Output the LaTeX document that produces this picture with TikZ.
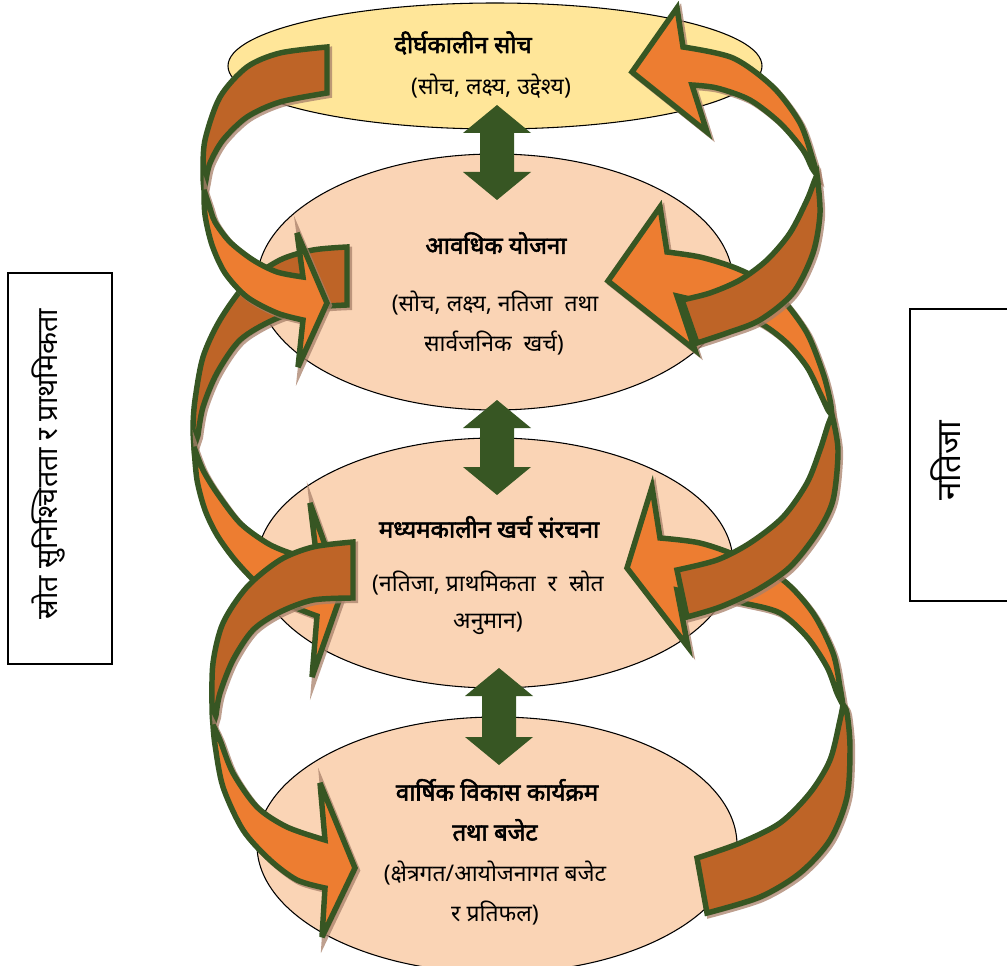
\documentclass[tikz,border=0pt]{standalone}
\usepackage{fontspec}
\newfontfamily\dev[Script=Devanagari]{Noto Sans}
\newfontfamily\devb[Script=Devanagari,FakeBold=2.4]{Noto Sans}
\usetikzlibrary{calc,shapes.geometric}
\definecolor{ygold}{HTML}{FFE699}
\definecolor{peach}{HTML}{FAD4B5}
\definecolor{dgreen}{HTML}{375623}
\definecolor{lorange}{HTML}{ED7D31}
\definecolor{dorange}{HTML}{BE6427}
\definecolor{shadowc}{HTML}{A8806A}
\newcommand\blockarrow[2]{%
 \fill[dgreen] (#1) -- ([shift={(34,28)}]#1) -- ([shift={(17,28)}]#1) -- ([shift={(17,-28)}]#2) -- ([shift={(34,-28)}]#2) -- (#2) -- ([shift={(-34,-28)}]#2) -- ([shift={(-17,-28)}]#2) -- ([shift={(-17,28)}]#1) -- ([shift={(-34,28)}]#1) -- cycle;}
\begin{document}
\begin{tikzpicture}[x=0.75pt,y=-0.75pt,
  ell/.style={ellipse, draw=black, line width=0.8pt, inner sep=0pt, outer sep=0pt},
  ttl/.style={font=\devb\fontsize{18}{21}\selectfont, inner sep=0pt},
  txt/.style={font=\dev\fontsize{17.2}{20}\selectfont, inner sep=0pt},
  sidetxt/.style={font=\dev\fontsize{21.5}{24}\selectfont, inner sep=0pt, rotate=90},
  sidebox/.style={draw=black, line width=0.8pt, fill=white, inner sep=0pt},
  curvebase/.style={draw=dgreen, line width=4.1pt, line join=miter, miter limit=5,
     preaction={fill=shadowc, draw=shadowc, line width=4.1pt, opacity=0.75,
       transform canvas={xshift=1.8pt, yshift=-1.8pt}}},
  darkpart/.style={curvebase, fill=dorange},
  lightpart/.style={curvebase, fill=lorange}]
\useasboundingbox (0,0) rectangle (1007,966);

% side boxes
\node[sidebox, minimum width=78pt, minimum height=293.25pt] (b1) at (60,468.5) {};
\node[sidebox, minimum width=78pt, minimum height=219pt] (b2) at (962,455) {};
\node[sidetxt] (s1) at (48,464) {स्रोत सुनिश्चितता र प्राथमिकता};
\node[sidetxt, font=\dev\fontsize{25}{28}\selectfont] (s2) at (946,461) {नतिजा};

% ellipses
\node[ell, fill=ygold, minimum width=400.5pt, minimum height=94.5pt] (e1) at (495,66) {};
\node[ell, fill=peach, minimum width=357pt, minimum height=192pt] (e2) at (495,282) {};
\node[ell, fill=peach, minimum width=357pt, minimum height=187.5pt] (e3) at (495,563) {};
\node[ell, fill=peach, minimum width=360pt, minimum height=192pt] (e4) at (497,845) {};

% double arrows
\coordinate (a1t) at ($(e1.south)+(2,-24)$);
\coordinate (a1b) at ($(e2.north)+(2,46)$);
\coordinate (a2t) at ($(e2.south)+(2,-10)$);
\coordinate (a2b) at ($(e3.north)+(2,57)$);
\coordinate (a3t) at ($(e3.south)+(4,-20)$);
\coordinate (a3b) at ($(e4.north)+(2,48)$);
\blockarrow{a1t}{a1b}
\blockarrow{a2t}{a2b}
\blockarrow{a3t}{a3b}

% texts
\node[ttl] (t1a) at (463,43) {दीर्घकालीन सोच};
\node[txt] (t1b) at (491,86) {(सोच, लक्ष्य, उद्देश्य)};
\node[ttl] (t2a) at (496,243) {आवधिक योजना};
\node[txt] (t2b) at (495,303) {(सोच, लक्ष्य, नतिजा\ \ तथा};
\node[txt] (t2c) at (494,343) {सार्वजनिक\ \ खर्च)};
\node[ttl] (t3a) at (489,527) {मध्यमकालीन खर्च संरचना};
\node[txt] (t3b) at (488,583) {(नतिजा, प्राथमिकता\ \ र\ \ स्रोत};
\node[txt] (t3c) at (488,623) {अनुमान)};
\node[ttl] (t4a) at (497,790) {वार्षिक विकास कार्यक्रम};
\node[ttl] (t4b) at (495,830) {तथा बजेट};
\node[txt] (t4c) at (495,873) {(क्षेत्रगत/आयोजनागत\ बजेट};
\node[txt] (t4d) at (495,913) {र प्रतिफल)};

% right curved arrows (R3, R2, R1)
\filldraw[lightpart] plot[smooth] coordinates {(843,705) (840,687) (833,653) (813,613) (783,580) (740,557) (700,543) (660,538)} -- (652,487) -- (627,568) -- (688,647) -- plot[smooth] coordinates {(677,590) (710,597) (743,603) (780,613) (807,637) (827,667) (837,693) (843,705)} -- cycle;
\filldraw[darkpart] plot[smooth] coordinates {(843,705) (847,713) (850,747) (847,797) (830,840) (800,873) (760,897) (707,913)} -- plot[smooth] coordinates {(697,858) (740,843) (780,823) (810,793) (830,760) (840,720) (843,705)} -- cycle;

\filldraw[lightpart] plot[smooth] coordinates {(832,415) (830,400) (823,373) (807,333) (783,300) (760,280) (733,267) (700,257) (667,252)} -- (660,207) -- (608,281) -- (695,350) -- plot[smooth] coordinates {(677,296) (720,307) (760,323) (787,343) (807,367) (820,393) (828,410) (832,415)} -- cycle;
\filldraw[darkpart] plot[smooth] coordinates {(832,415) (838,450) (833,500) (817,533) (790,567) (757,590) (720,607) (687,617)} -- plot[smooth] coordinates {(677,570) (717,560) (750,543) (783,517) (807,483) (820,450) (828,425) (832,415)} -- cycle;

\filldraw[lightpart] plot[smooth] coordinates {(817,175) (813,160) (800,123) (773,87) (733,58) (683,47)} -- (677,8) -- (632,72) -- (707,132) -- plot[smooth] coordinates {(692,85) (717,88) (750,100) (780,123) (803,150) (812,168) (817,175)} -- cycle;
\filldraw[darkpart] plot[smooth] coordinates {(817,175) (820,213) (813,253) (793,293) (760,320) (727,333) (697,343)} -- plot[smooth] coordinates {(682,300) (710,293) (740,280) (767,260) (790,233) (807,200) (814,182) (817,175)} -- cycle;

% left curved arrows (L2, L1, L3)
\filldraw[darkpart] plot[smooth] coordinates {(347,247) (313,250) (280,260) (247,283) (220,320) (203,357) (195,400) (193,427) (194,447)} -- plot[smooth] coordinates {(198,435) (203,407) (217,373) (240,340) (273,320) (310,308) (347,305)} -- cycle;
\filldraw[lightpart] plot[smooth] coordinates {(194,447) (197,480) (205,510) (217,535) (235,560) (257,583) (285,603) (317,616)} -- (312,677) -- (342,592) -- (310,503) -- plot[smooth] coordinates {(317,560) (290,553) (267,543) (240,523) (217,493) (203,470) (194,447)} -- cycle;

\filldraw[darkpart] plot[smooth] coordinates {(327,47) (280,53) (247,67) (220,97) (205,140) (203,173) (204,190)} -- plot[smooth] coordinates {(206,180) (210,163) (223,140) (247,117) (280,102) (327,93)} -- cycle;
\filldraw[lightpart] plot[smooth] coordinates {(204,190) (205,215) (212,245) (225,273) (247,297) (277,313) (303,320)} -- (298,367) -- (327,303) -- (297,233) -- plot[smooth] coordinates {(303,277) (277,272) (253,260) (230,242) (215,222) (209,205) (204,190)} -- cycle;

\filldraw[darkpart] plot[smooth] coordinates {(353,542) (313,547) (280,560) (247,587) (223,623) (213,663) (212,707) (213,725)} -- plot[smooth] coordinates {(216,715) (220,693) (233,660) (253,630) (280,612) (313,600) (353,598)} -- cycle;
\filldraw[lightpart] plot[smooth] coordinates {(213,725) (215,745) (223,787) (243,830) (270,860) (297,880) (325,888)} -- (322,937) -- (355,868) -- (320,783) -- plot[smooth] coordinates {(325,840) (287,827) (257,807) (233,773) (220,740) (213,725)} -- cycle;
\end{tikzpicture}
\end{document}
